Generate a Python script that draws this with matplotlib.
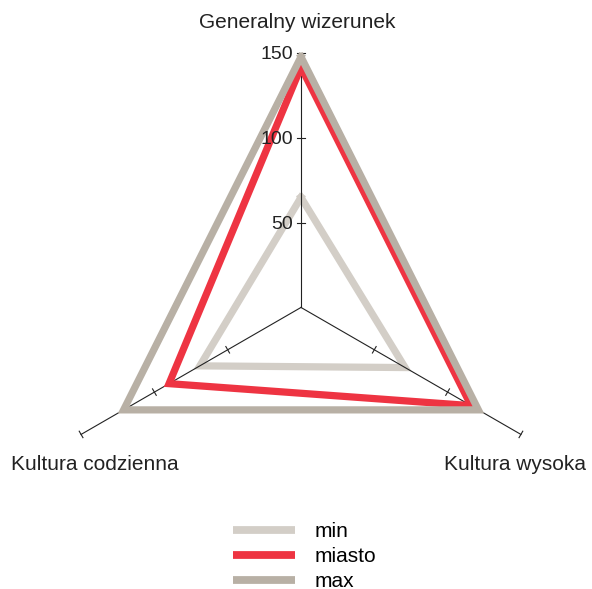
import numpy as np
import matplotlib
matplotlib.use("Agg")
import matplotlib.pyplot as plt

plt.rcParams['font.family'] = ['Liberation Sans', 'DejaVu Sans']

categories = ["Generalny wizerunek", "Kultura wysoka", "Kultura codzienna"]
series_names = ["min", "miasto", "max"]
min_vals = [65, 71, 69]
miasto_vals = [142, 116, 90]
max_vals = [148, 121, 121]
ticks = [50, 100, 150]

colors = {"min": "#d3cec7", "miasto": "#ee3442", "max": "#b8b0a5"}
angles = np.deg2rad([90, -30, 210])


def to_xy(vals):
    vals = np.asarray(vals, dtype=float)
    x = vals * np.cos(angles)
    y = vals * np.sin(angles)
    return np.append(x, x[0]), np.append(y, y[0])


fig = plt.figure(figsize=(5.92, 5.89), dpi=100)
ax = fig.add_axes([0, 0, 1, 1])
ax.set_xlim(-177.8, 171.9)
ax.set_ylim(-166.3, 181.6)
ax.axis("off")

# axes of the radar
for a in angles:
    ax.plot([0, 150 * np.cos(a)], [0, 150 * np.sin(a)], color="#222222", lw=0.8, zorder=3)
    px, py = -np.sin(a), np.cos(a)
    for t in ticks:
        cx, cy = t * np.cos(a), t * np.sin(a)
        ax.plot([cx - 2.2 * px, cx + 2.2 * px], [cy - 2.2 * py, cy + 2.2 * py],
                color="#222222", lw=0.8, zorder=3)

for t in ticks:
    ax.text(-4.5, t - 0.8, str(t), ha="right", va="center", fontsize=14, color="#222222", zorder=6)

series = {"min": min_vals, "miasto": miasto_vals, "max": max_vals}
zorders = {"min": 2, "miasto": 4, "max": 5}
for name in series_names:
    x, y = to_xy(series[name])
    ax.plot(x, y, color=colors[name], lw=5.2, solid_joinstyle="miter",
            label=name, zorder=zorders[name])

ax.text(-2.4, 168.6, categories[0], ha="center", va="center", fontsize=15, color="#222222")
ax.text(126.4, -93, categories[1], ha="center", va="center", fontsize=15, color="#222222")
ax.text(-121.7, -93, categories[2], ha="center", va="center", fontsize=15, color="#222222")

leg = ax.legend(loc="upper left", bbox_to_anchor=(0.38, 0.128), frameon=False,
                fontsize=15, handlelength=2.95, handletextpad=0.95, labelspacing=0.3,
                borderaxespad=0)
for line in leg.get_lines():
    line.set_linewidth(5.6)
    line.set_solid_capstyle("butt")

fig.savefig("out.png", dpi=100)
